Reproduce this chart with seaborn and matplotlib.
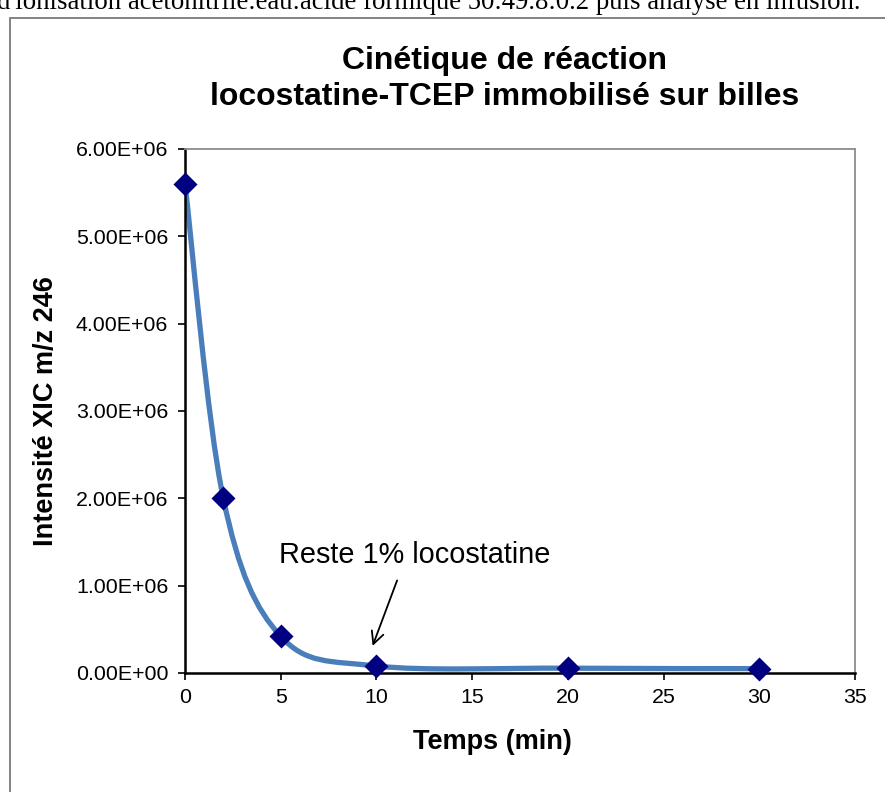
import numpy as np
import pandas as pd
import seaborn as sns
import matplotlib
matplotlib.use("Agg")
import matplotlib.pyplot as plt
from matplotlib.path import Path
from matplotlib.patches import PathPatch, Rectangle

# Reaction kinetics: XIC intensity of locostatine (m/z 246) over time
temps_min = [0, 2, 5, 10, 20, 30]
intensite = [5.6e6, 2.0e6, 4.2e5, 8.0e4, 5.5e4, 5.0e4]

x_ticks = [0, 5, 10, 15, 20, 25, 30, 35]
y_ticks = [0, 1e6, 2e6, 3e6, 4e6, 5e6, 6e6]
y_tick_labels = ["0.00E+00", "1.00E+06", "2.00E+06", "3.00E+06",
                 "4.00E+06", "5.00E+06", "6.00E+06"]

titre = "Cinétique de réaction\nlocostatine-TCEP immobilisé sur billes"
label_x = "Temps (min)"
label_y = "Intensité XIC m/z 246"
note = "Reste 1% locostatine"
texte_haut = ("d'ionisation acétonitrile:eau:acide formique 50:49.8:0.2 "
              "puis analyse en infusion.")

df = pd.DataFrame({"t": temps_min, "I": intensite})

sns.set_theme(style="white")
plt.rcParams["font.family"] = ["Liberation Sans", "DejaVu Sans"]
plt.rcParams["text.color"] = "black"
plt.rcParams["axes.labelcolor"] = "black"

W, H = 885, 792
fig = plt.figure(figsize=(W / 100, H / 100), dpi=100)
ax = fig.add_axes([185 / W, 1 - 673 / H, 670 / W, 524 / H])

# Smoothed line (Catmull-Rom style cubic Bezier between successive points)
pts = np.column_stack([df["t"].to_numpy(float), df["I"].to_numpy(float)])
n = len(pts)
verts = [tuple(pts[0])]
codes = [Path.MOVETO]
for i in range(n - 1):
    p_prev = pts[max(i - 1, 0)]
    p0, p1 = pts[i], pts[i + 1]
    p_next = pts[min(i + 2, n - 1)]
    c1 = p0 + (p1 - p_prev) / 6.0
    c2 = p1 - (p_next - p0) / 6.0
    verts += [tuple(c1), tuple(c2), tuple(p1)]
    codes += [Path.CURVE4] * 3
curve = PathPatch(Path(verts, codes), facecolor="none", edgecolor="#4A7EBB",
                  lw=3.8, capstyle="round", joinstyle="round", zorder=2)
ax.add_patch(curve)

sns.scatterplot(data=df, x="t", y="I", ax=ax, marker="D", s=150,
                color="#000080", edgecolor="#000080", linewidth=0, zorder=3,
                clip_on=False)

ax.set_xlim(0, 35)
ax.set_ylim(0, 6e6)
ax.set_xticks(x_ticks)
ax.set_xticklabels([str(v) for v in x_ticks], fontsize=15.4)
ax.set_yticks(y_ticks)
ax.set_yticklabels(y_tick_labels, fontsize=15.4)
ax.tick_params(axis="both", direction="out", length=5, width=1.2,
               color="black", labelcolor="black", pad=6)
ax.tick_params(axis="x", bottom=True, pad=6)
ax.tick_params(axis="y", left=True, pad=7)

for side in ("left", "bottom"):
    ax.spines[side].set_color("black")
    ax.spines[side].set_linewidth(1.8)
for side in ("top", "right"):
    ax.spines[side].set_color("#8c8c8c")
    ax.spines[side].set_linewidth(1.3)

ax.set_xlabel(label_x, fontsize=19.5, fontweight="bold", color="black")
ax.set_ylabel(label_y, fontsize=19.5, fontweight="bold", color="black")
ax.xaxis.label.set_va("center")
ax.yaxis.label.set_va("center")
ax.xaxis.set_label_coords((492 - 185) / 670, (673 - 742) / 524)
ax.yaxis.set_label_coords((46 - 185) / 670, 0.5)

fig.text(505 / W, 1 - 79 / H, titre, ha="center", va="center",
         fontsize=23, fontweight="bold", linespacing=1.25, color="black")

ax.annotate("", xy=(9.8, 0.31e6), xytext=(11.08, 1.06e6),
            arrowprops=dict(arrowstyle="->", color="black", lw=1.3,
                            mutation_scale=22, shrinkA=0, shrinkB=0))
ax.text(4.91, 1.26e6, note, fontsize=20.8, ha="left", va="baseline",
        color="black")

# Page elements around the chart
fig.text(-3 / W, 1 - 9 / H, texte_haut, ha="left", va="baseline",
         fontsize=19.3, family=["Liberation Serif", "DejaVu Serif"],
         color="black")
fig.patches.append(Rectangle((9.5 / W, -0.1), 1.2, 1 - 18 / H + 0.1,
                             transform=fig.transFigure, fill=False,
                             edgecolor="#7a7a7a", lw=1.3))

fig.savefig("out.png", dpi=100)
